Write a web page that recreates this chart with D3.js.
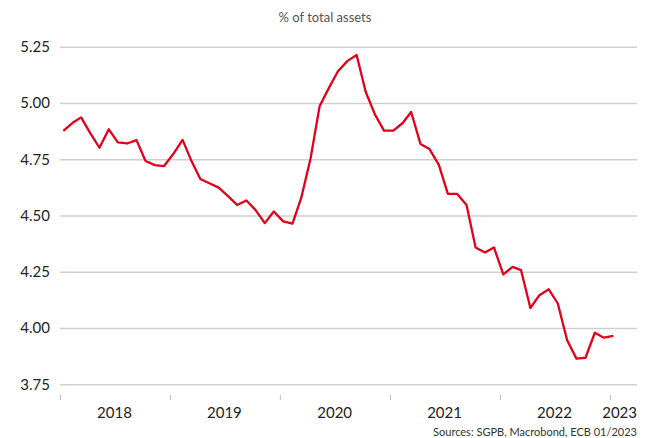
<!DOCTYPE html>
<html>
<head>
<meta charset="utf-8">
<script src="https://cdn.jsdelivr.net/npm/d3@7"></script>
<style>
  body { margin: 0; background: #fff; }
  svg { font-family: Lato, "Noto Sans", sans-serif; }
</style>
</head>
<body>
<svg width="651" height="438"></svg>
<script>
// monthly values, Jan 2018 .. Jan 2023
var startMonth = "2018-01";
var values = [4.876, 4.912, 4.936, 4.865, 4.801, 4.883, 4.825, 4.820, 4.835, 4.742, 4.724, 4.719,
              4.773, 4.836, 4.747, 4.662, 4.643, 4.624, 4.587, 4.547, 4.567, 4.525, 4.466, 4.518,
              4.474, 4.464, 4.578, 4.753, 4.985, 5.067, 5.141, 5.186, 5.213, 5.050, 4.948, 4.877,
              4.877, 4.911, 4.960, 4.818, 4.795, 4.725, 4.596, 4.596, 4.547, 4.358, 4.336, 4.358,
              4.238, 4.272, 4.257, 4.089, 4.146, 4.172, 4.109, 3.946, 3.864, 3.868, 3.979, 3.957,
              3.965];
var yTicks = [3.75, 4.00, 4.25, 4.50, 4.75, 5.00, 5.25];
var years = [2018, 2019, 2020, 2021, 2022, 2023];
var title = "% of total assets";
var source = "Sources: SGPB, Macrobond, ECB 01/2023";

var parseMonth = d3.timeParse("%Y-%m");
var months = d3.timeMonth.range(parseMonth(startMonth), d3.timeMonth.offset(parseMonth(startMonth), values.length));
var data = values.map(function(v, i) {
  return { date: d3.timeDay.offset(months[i], 11), value: v };
});

var svg = d3.select("svg"),
    plot = { left: 60, right: 637, top: 46.7, bottom: 384.3 };

var x = d3.scaleTime()
    .domain([new Date(2018, 0, 1), new Date(2023, 3, 1)])
    .range([plot.left, plot.right]);

var y = d3.scaleLinear()
    .domain([3.75, 5.25])
    .range([plot.bottom, plot.top]);

// title
svg.append("text")
    .attr("x", 325)
    .attr("y", 22)
    .attr("text-anchor", "middle")
    .attr("fill", "#555")
    .style("font-size", "13px")
    .text(title);

// grid + y labels
var yAxis = svg.append("g")
    .attr("transform", "translate(" + plot.left + ",0)")
    .call(d3.axisLeft(y).tickValues(yTicks).tickFormat(d3.format(".2f"))
      .tickSize(-(plot.right - plot.left)).tickPadding(10));
yAxis.select(".domain").remove();
yAxis.selectAll(".tick line").attr("stroke", "#cfcfcf").attr("stroke-width", 1.4);
yAxis.selectAll(".tick text")
    .attr("fill", "#222")
    .style("font-size", "15px")
    .style("font-family", "Lato, 'Noto Sans', sans-serif");

// x ticks at year start
var xAxis = svg.append("g")
    .attr("transform", "translate(0,395)")
    .call(d3.axisBottom(x).tickValues(years.map(function(yr) { return new Date(yr, 0, 1); }))
      .tickSize(5).tickFormat(""));
xAxis.select(".domain").remove();
xAxis.selectAll(".tick line").attr("stroke", "#bbb");

// year labels at mid-year, last one kept inside the plot
svg.append("g").selectAll("text")
    .data(years)
    .enter().append("text")
    .attr("x", function(d) { return Math.min(x(new Date(d, 6, 1)), plot.right); })
    .attr("y", 418)
    .attr("text-anchor", function(d) { return x(new Date(d, 6, 1)) > plot.right ? "end" : "middle"; })
    .attr("fill", "#222")
    .style("font-size", "15px")
    .text(function(d) { return d; });

// line
var valueline = d3.line()
    .x(function(d) { return x(d.date); })
    .y(function(d) { return y(d.value); });

svg.append("path")
    .datum(data)
    .attr("fill", "none")
    .attr("stroke", "#e3001b")
    .attr("stroke-width", 2.3)
    .attr("stroke-linejoin", "round")
    .attr("d", valueline);

// source
svg.append("text")
    .attr("x", plot.right)
    .attr("y", 436)
    .attr("text-anchor", "end")
    .attr("fill", "#333")
    .style("font-size", "11px")
    .text(source);
</script>
</body>
</html>
